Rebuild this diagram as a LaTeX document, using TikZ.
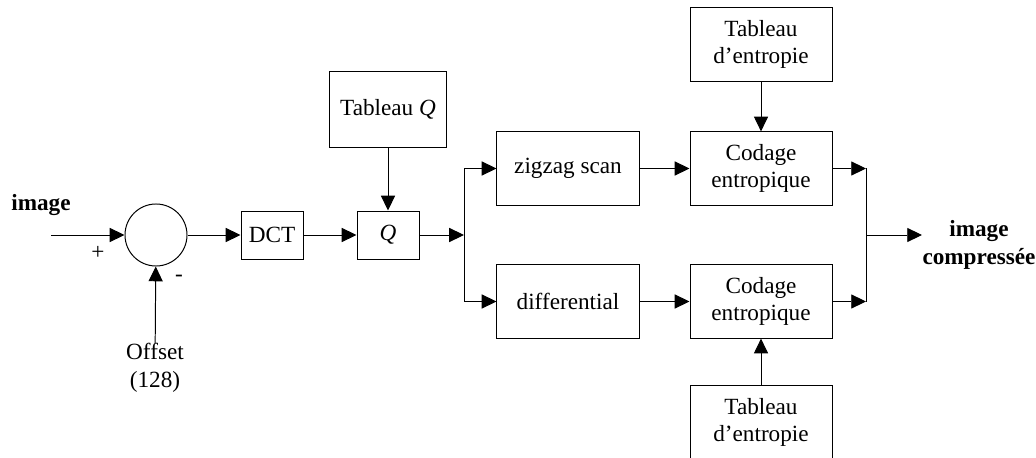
\documentclass[tikz,border=0pt]{standalone}
\usepackage{fontspec}
\setmainfont{Liberation Serif}
\usetikzlibrary{arrows.meta}
\begin{document}
\begin{tikzpicture}[x=0.025cm, y=-0.025cm, line width=0.7pt,
  every node/.style={font=\fontsize{16.5}{19.5}\selectfont, inner sep=0pt, align=center},
  box/.style={draw, minimum width=3.55cm, minimum height=1.83cm},
  smallbox/.style={draw, minimum width=1.55cm, minimum height=1.2cm},
  arr/.style={-{Triangle[length=10.5pt, width=10pt]}}]
\useasboundingbox (0,0) rectangle (1036,458);
% left part
\node[font=\fontsize{16.5}{19.5}\selectfont\bfseries] (img) at (41,205){image};
\coordinate (in) at (51,235);
\node[circle, draw, minimum size=1.55cm] (sum) at (156,235){};
\node (plus) at (98,253){+};
\node (minus) at (179,278){-};
\node[anchor=north] (off) at (155,343){Offset\\(128)};
\draw[arr](in) -- (sum);
\draw[arr](off) -- (sum);
\node[smallbox] (dct) at (272,235){DCT};
\node[smallbox] (q) at (388,235){\textit{Q}};
\node[draw, minimum width=2.93cm, minimum height=1.9cm] (tabq) at (388,109.5){Tableau \textit{Q}};
\draw[arr](sum) -- (dct);
\draw[arr](dct) -- (q);
\draw[arr](tabq) -- (q);
% two branches
\coordinate (j1) at (464,235);
\node[box] (zz) at (568,168.5){zigzag scan};
\node[box] (diff) at (568,301.5){differential};
\draw[arr](q) -- (j1);
\draw[arr](j1) |- (zz.west);
\draw[arr](j1) |- (diff.west);
\node[box] (cod1) at (761,168.5){Codage\\entropique};
\node[box] (cod2) at (761,301.5){Codage\\entropique};
\node[box] (tab1) at (761,44.5){Tableau\\d’entropie};
\node[box] (tab2) at (761,422.5){Tableau\\d’entropie};
\draw[arr](zz) -- (cod1);
\draw[arr](diff) -- (cod2);
\draw[arr](tab1) -- (cod1);
\draw[arr](tab2) -- (cod2);
% output
\coordinate (j2) at (866,235);
\node[font=\fontsize{16.5}{19.5}\selectfont\bfseries, anchor=west] (out) at (922,245){image\\compressée};
\draw[arr](cod1.east) -- (cod1.east -| j2);
\draw[arr](cod2.east) -- (cod2.east -| j2);
\draw[](cod1.east -| j2) -- (cod2.east -| j2);
\draw[arr](j2) -- (out.west |- j2);
\end{tikzpicture}
\end{document}
